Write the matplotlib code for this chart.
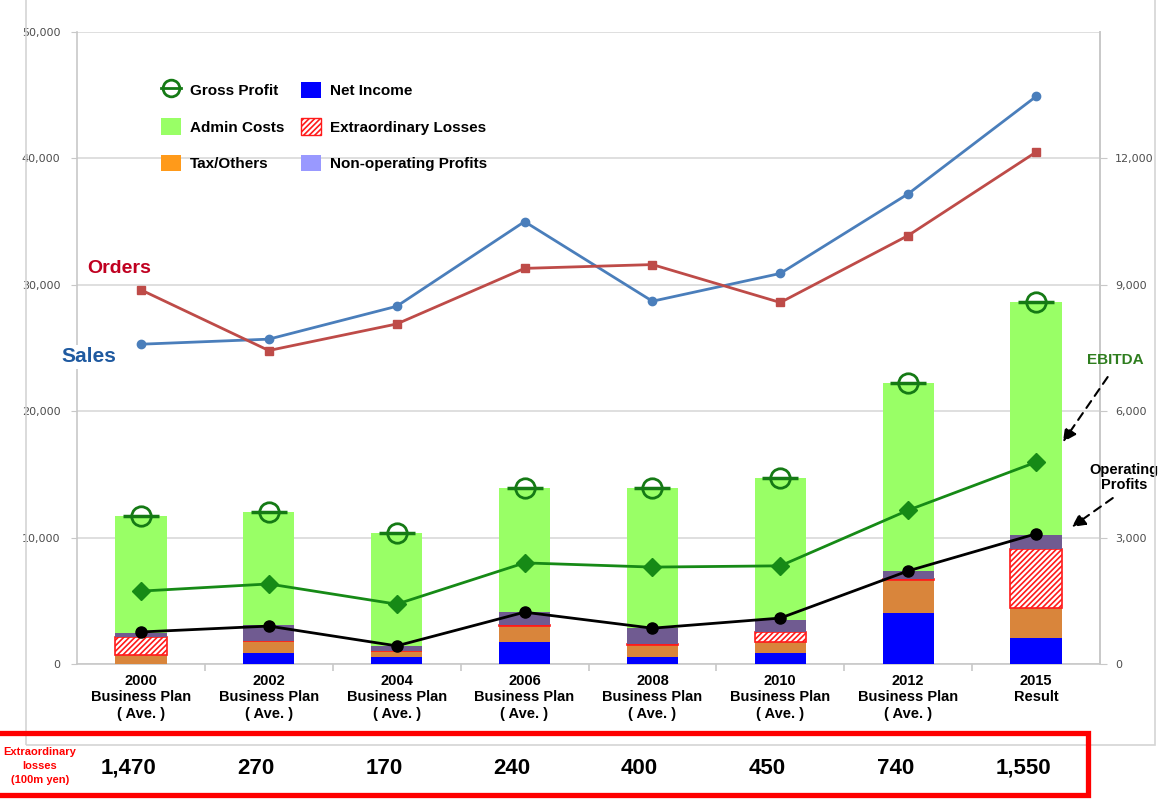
import matplotlib
matplotlib.use("Agg")
import matplotlib.pyplot as plt
import matplotlib.transforms as mtransforms
from matplotlib.lines import Line2D
from matplotlib.patches import Patch, Rectangle
import numpy as np

plt.rcParams["font.family"] = ["Liberation Sans", "DejaVu Sans"]
plt.rcParams["hatch.linewidth"] = 1.2

# ---- data (left axis: sales/orders, right axis: profit breakdown) ----
categories = ["2000\nBusiness Plan\n( Ave. )", "2002\nBusiness Plan\n( Ave. )",
              "2004\nBusiness Plan\n( Ave. )", "2006\nBusiness Plan\n( Ave. )",
              "2008\nBusiness Plan\n( Ave. )", "2010\nBusiness Plan\n( Ave. )",
              "2012\nBusiness Plan\n( Ave. )", "2015\nResult"]
sales = [25300, 25700, 28300, 35000, 28700, 30900, 37200, 44900]
orders = [29600, 24800, 26900, 31300, 31600, 28600, 33900, 40500]

net_income = [0, 260, 165, 520, 165, 260, 1210, 620]
tax_others = [215, 285, 140, 380, 285, 260, 785, 710]
extra_losses = [430, 0, 0, 25, 25, 235, 20, 1400]
non_op = [95, 380, 120, 310, 380, 285, 190, 330]
gross_profit = [3510, 3610, 3110, 4180, 4180, 4410, 6670, 8590]
ebitda = [1730, 1900, 1420, 2400, 2300, 2330, 3650, 4790]
op_profit = [760, 900, 430, 1230, 850, 1090, 2210, 3090]

extra_table = ["1,470", "270", "170", "240", "400", "450", "740", "1,550"]

GRAY = "#c8c8c8"
TICK = "#4d4d4d"

fig = plt.figure(figsize=(11.63, 8), dpi=100)
ax = fig.add_axes([77 / 1163, 1 - 664 / 800, (1100 - 77) / 1163, (664 - 32) / 800])
ax2 = ax.twinx()

x = np.arange(len(categories))

# outer frame
fig.patches.append(Rectangle((26 / 1163, 1 - 745 / 800), (1155 - 26) / 1163, 0.99,
                             transform=fig.transFigure, fill=False,
                             edgecolor="#d4d4d4", linewidth=1.2, zorder=0))

# left axis: sales / orders
ax.set_xlim(-0.5, len(categories) - 0.5)
ax.set_ylim(0, 50000)
ax.set_yticks(range(0, 50001, 10000))
ax.set_yticklabels([f"{v:,}" for v in range(0, 50001, 10000)],
                   family="DejaVu Sans", fontsize=8, color=TICK)
ax.grid(axis="y", color="#d9d9d9", linewidth=1.2)
ax.set_axisbelow(True)
ax.tick_params(axis="y", length=4, color=GRAY, pad=8)
ax.spines["top"].set_visible(False)
for side in ["left", "bottom", "right"]:
    ax.spines[side].set_color(GRAY)
    ax.spines[side].set_linewidth(1.2)

ax.set_xticks(x)
ax.set_xticklabels(categories, fontsize=10.5, fontweight="bold", linespacing=1.25)
ax.tick_params(axis="x", which="major", length=0, pad=7)
ax.set_xticks(x[:-1] + 0.5, minor=True)
ax.tick_params(axis="x", which="minor", length=5, color=GRAY, width=1.2)

# right axis: stacked breakdown
ax2.set_ylim(0, 15000)
ax2.set_yticks(range(0, 12001, 3000))
ax2.set_yticklabels([f"{v:,}" for v in range(0, 12001, 3000)],
                    family="DejaVu Sans", fontsize=8, color=TICK)
ax2.tick_params(axis="y", length=5, color=GRAY, pad=6)
for side in ["top", "left", "bottom"]:
    ax2.spines[side].set_visible(False)
ax2.spines["right"].set_color(GRAY)
ax2.spines["right"].set_linewidth(1.2)

w = 0.4
bottom = np.zeros(len(categories))
ax2.bar(x, net_income, w, bottom=bottom, color="#0000ff", zorder=2)
bottom += net_income
ax2.bar(x, tax_others, w, bottom=bottom, color="#d9853b", zorder=2)
bottom += tax_others
ax2.bar(x, extra_losses, w, bottom=bottom, facecolor="white", edgecolor="#ff1a1a",
        hatch="//////", linewidth=1.2, zorder=2)
bottom += extra_losses
ax2.bar(x, non_op, w, bottom=bottom, color="#705b91", zorder=2)
bottom += non_op
admin = np.array(gross_profit) - bottom
ax2.bar(x, admin, w, bottom=bottom, color="#99ff66", zorder=2)

# gross profit marker
ax2.plot(x, gross_profit, "o", ms=14, mfc="none", mec="#157a15", mew=2, zorder=4)
ax2.plot(x, gross_profit, "_", ms=26, mec="#157a15", mew=2.5, zorder=4)

ax2.plot(x, ebitda, "-D", color="#168a16", lw=2, ms=9, zorder=5)
ax2.plot(x, op_profit, "-o", color="black", lw=2, ms=8, zorder=5)

ax2.plot(x, sales, "-o", color="#4a7ebb", lw=2, ms=6, zorder=6,
         transform=ax.transData)
ax2.plot(x, orders, "-s", color="#be4b48", lw=2, ms=6, zorder=6,
         transform=ax.transData)

# series labels
ax2.text(-0.42, 31300, "Orders", transform=ax.transData, fontsize=14,
         fontweight="bold", color="#c00020", va="center", ha="left", clip_on=False,
         bbox=dict(facecolor="white", edgecolor="none", pad=2), zorder=7)
ax2.text(-0.62, 24300, "Sales", transform=ax.transData, fontsize=15,
         fontweight="bold", color="#1f5aa0", va="center", ha="left", clip_on=False,
         bbox=dict(facecolor="white", edgecolor="none", pad=2), zorder=7)

arrow_kw = dict(arrowstyle="-|>", linestyle=(0, (4, 3)), color="black", lw=1.5,
                mutation_scale=20, shrinkA=0, shrinkB=0)
ax2.text(7.62, 7214, "EBITDA", fontsize=11, fontweight="bold", color="#2e7d1e",
         ha="center", va="center", clip_on=False)
ax2.annotate("", xy=(7.21, 5268), xytext=(7.56, 6811), arrowprops=arrow_kw,
             annotation_clip=False)
ax2.text(7.69, 4437, "Operating\nProfits", fontsize=10.5, fontweight="bold",
         color="black", ha="center", va="center", linespacing=1.1, clip_on=False)
ax2.annotate("", xy=(7.28, 3251), xytext=(7.60, 3939), arrowprops=arrow_kw,
             annotation_clip=False)

# legend
handles = [
    Line2D([], [], color="#157a15", lw=2, marker="o", ms=12, mfc="none", mew=2),
    Patch(facecolor="#99ff66"),
    Patch(facecolor="#ff9a1a"),
    Patch(facecolor="#0000ff"),
    Patch(facecolor="white", edgecolor="#ff1a1a", hatch="//////"),
    Patch(facecolor="#9999ff"),
]
labels = ["Gross Profit", "Admin Costs", "Tax/Others",
          "Net Income", "Extraordinary Losses", "Non-operating Profits"]
fig.legend(handles, labels, loc="upper left", bbox_to_anchor=(147 / 1163, 1 - 68 / 800),
           ncol=2, frameon=False, prop=dict(weight="bold", size=11),
           handlelength=1.3, handleheight=1.3, labelspacing=1.3,
           columnspacing=1.1, handletextpad=0.6)

# extraordinary losses table
fig.patches.append(Rectangle((-0.005, 1 - 795 / 800), 1088 / 1163 + 0.005, 62 / 800,
                             transform=fig.transFigure, fill=False,
                             edgecolor="#ff0000", linewidth=3.8, zorder=3))
fig.text(40 / 1163, 1 - 766 / 800, "Extraordinary\nlosses\n(100m yen)",
         color="#ff0000", fontsize=8, fontweight="bold", ha="center", va="center",
         linespacing=1.45)
trans = mtransforms.blended_transform_factory(ax.transData, fig.transFigure)
for i, v in enumerate(extra_table):
    fig.text(i - 0.1, 1 - 768 / 800, v, transform=trans, fontsize=16,
             fontweight="bold", ha="center", va="center")

fig.savefig("out.png", dpi=100)
